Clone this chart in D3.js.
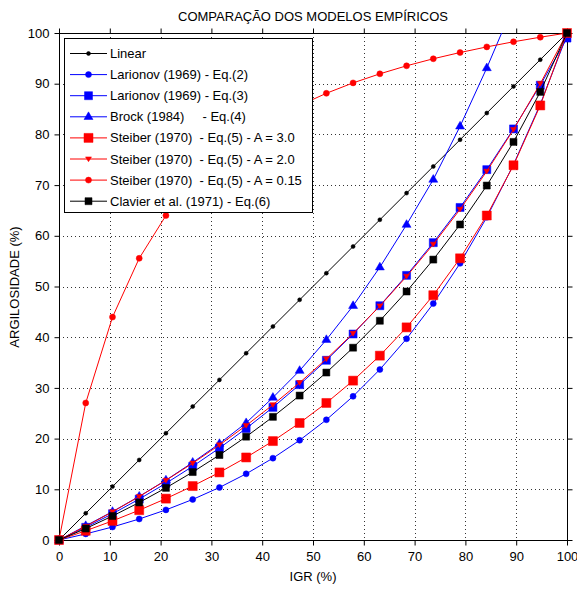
<!DOCTYPE html>
<html><head><meta charset="utf-8">
<script src="https://cdn.jsdelivr.net/npm/d3@7"></script>
<style>
body{margin:0;background:#fff}
text{font-family:"Liberation Sans",Arial,Helvetica,sans-serif;font-size:13px;fill:#000}
</style>
</head><body>
<svg id="c" width="577" height="589"></svg>
<script>
// ---- data ----
const igr = [0, 5.26, 10.53, 15.79, 21.05, 26.32, 31.58, 36.84, 42.11, 47.37, 52.63, 57.89, 63.16, 68.42, 73.68, 78.95, 84.21, 89.47, 94.74, 100];
const linear      = [0, 5.26, 10.53, 15.79, 21.05, 26.32, 31.58, 36.84, 42.11, 47.37, 52.63, 57.89, 63.16, 68.42, 73.68, 78.95, 84.21, 89.47, 94.74, 100];
const larionov2   = [0, 1.20, 2.57, 4.14, 5.94, 8.00, 10.36, 13.05, 16.14, 19.67, 23.71, 28.34, 33.63, 39.69, 46.63, 54.57, 63.65, 74.05, 85.95, 99.57];
const larionov3   = [0, 2.50, 5.18, 8.07, 11.18, 14.53, 18.13, 22.00, 26.16, 30.64, 35.45, 40.63, 46.21, 52.20, 58.65, 65.59, 73.05, 81.08, 89.71, 99.0];
const brock       = [0, 2.8, 5.6, 8.6, 11.8, 15.3, 19.0, 23.1, 28.1, 33.4, 39.5, 46.2, 53.8, 62.2, 71.1, 81.6, 93.1, 105.5];
const steiber30   = [0, 1.82, 3.77, 5.88, 8.16, 10.64, 13.33, 16.28, 19.51, 23.08, 27.03, 31.43, 36.36, 41.94, 48.28, 55.56, 64.00, 73.91, 85.71, 100];
const steiber20   = [0, 2.70, 5.56, 8.57, 11.76, 15.15, 18.75, 22.58, 26.67, 31.03, 35.71, 40.74, 46.15, 52.00, 58.33, 65.22, 72.73, 80.95, 90.00, 100];
const steiber015  = [0, 27.03, 43.96, 55.56, 64.00, 70.42, 75.47, 79.55, 82.90, 85.71, 88.11, 90.16, 91.95, 93.53, 94.92, 96.15, 97.26, 98.27, 99.17, 100];
const clavier     = [0, 2.26, 4.73, 7.40, 10.28, 13.40, 16.76, 20.38, 24.29, 28.49, 33.03, 37.93, 43.24, 49.01, 55.31, 62.23, 69.91, 78.52, 88.38, 100];
const xTicks = [0, 10, 20, 30, 40, 50, 60, 70, 80, 90, 100];
const yTicks = [0, 10, 20, 30, 40, 50, 60, 70, 80, 90, 100];
const seriesNames = [
  "Linear",
  "Larionov (1969) - Eq.(2)",
  "Larionov (1969) - Eq.(3)",
  "Brock (1984)     - Eq.(4)",
  "Steiber (1970)  - Eq.(5) - A = 3.0",
  "Steiber (1970)  - Eq.(5) - A = 2.0",
  "Steiber (1970)  - Eq.(5) - A = 0.15",
  "Clavier et al. (1971) - Eq.(6)"
];
const titleText = "COMPARAÇÃO DOS MODELOS EMPÍRICOS";
const xLabel = "IGR (%)";
const yLabel = "ARGILOSIDADE (%)";

// ---- styles ----
const styles = [
  {vals: linear,     line: "#000", color: "#000", shape: "circle", size: 2},
  {vals: larionov2,  line: "#0000ff", color: "#0000ff", shape: "circle", size: 3},
  {vals: larionov3,  line: "#0000ff", color: "#0000ff", shape: "square", size: 8},
  {vals: brock,      line: "#0000ff", color: "#0000ff", shape: "triUp", size: 9},
  {vals: steiber30,  line: "#ff0000", color: "#ff0000", shape: "square", size: 9},
  {vals: steiber20,  line: "#ff0000", color: "#ff0000", shape: "triDown", size: 6},
  {vals: steiber015, line: "#ff0000", color: "#ff0000", shape: "circle", size: 3},
  {vals: clavier,    line: "#000", color: "#000", shape: "square", size: 7}
];

const svg = d3.select("#c");
const L = 59, R = 567, T = 33, B = 540;
const x = d3.scaleLinear().domain([0, 100]).range([L, R]);
const y = d3.scaleLinear().domain([0, 100]).range([B, T]);

function shapePath(shape, s) {
  if (shape === "circle") return `M${-s},0A${s},${s} 0 1,0 ${s},0A${s},${s} 0 1,0 ${-s},0Z`;
  const h = s / 2;
  if (shape === "square") return `M${-h},${-h}H${h}V${h}H${-h}Z`;
  if (shape === "triUp") return `M0,${-s*0.55}L${h},${s*0.3}L${-h},${s*0.3}Z`;
  if (shape === "triDown") return `M0,${s*0.45}L${h},${-s*0.35}L${-h},${-s*0.35}Z`;
}

// title
svg.append("text").attr("x", 313).attr("y", 21).attr("text-anchor", "middle").text(titleText);

// grid
const grid = svg.append("g").attr("stroke", "#333").attr("stroke-width", 1).attr("stroke-dasharray", "1,3");
grid.selectAll("line.gx").data(xTicks.filter(d => d > 0 && d < 100)).join("line")
  .attr("x1", d => Math.round(x(d)) + 0.5).attr("x2", d => Math.round(x(d)) + 0.5)
  .attr("y1", T).attr("y2", B);
grid.selectAll("line.gy").data(yTicks.filter(d => d > 0 && d < 100)).join("line")
  .attr("class", "gy")
  .attr("y1", d => Math.round(y(d)) + 0.5).attr("y2", d => Math.round(y(d)) + 0.5)
  .attr("x1", L).attr("x2", R);

// axes
function styleAxis(g) {
  g.select(".domain").remove();
  g.selectAll(".tick line").attr("stroke", "#000");
  g.selectAll(".tick text").style("font-size", "13px").attr("fill", "#000");
}
svg.append("g").attr("transform", `translate(0,${B + 0.5})`)
  .call(d3.axisBottom(x).tickValues(xTicks).tickSize(5).tickPadding(6).tickFormat(d3.format("d")))
  .call(styleAxis);
svg.append("g").attr("transform", `translate(${L + 0.5},0)`)
  .call(d3.axisLeft(y).tickValues(yTicks).tickSize(5).tickPadding(5).tickFormat(d3.format("d")))
  .call(styleAxis);
svg.append("g").attr("transform", `translate(0,${T + 0.5})`)
  .call(d3.axisTop(x).tickValues(xTicks).tickSize(5).tickFormat(""))
  .call(styleAxis);
svg.append("g").attr("transform", `translate(${R + 0.5},0)`)
  .call(d3.axisRight(y).tickValues(yTicks).tickSize(5).tickFormat(""))
  .call(styleAxis);

// clip
svg.append("clipPath").attr("id", "clip").append("rect")
  .attr("x", L).attr("y", T).attr("width", R - L).attr("height", B - T);

// frame
svg.append("rect").attr("x", L + 0.5).attr("y", T + 0.5).attr("width", R - L).attr("height", B - T)
  .attr("fill", "none").attr("stroke", "#000").attr("stroke-width", 1);

// series
const lineGen = d3.line().x(d => x(d[0])).y(d => y(d[1]));
styles.forEach(st => {
  const pts = st.vals.map((v, i) => [igr[i], v]);
  const g = svg.append("g");
  g.append("path").attr("d", lineGen(pts)).attr("fill", "none")
    .attr("stroke", st.line).attr("stroke-width", 1).attr("clip-path", "url(#clip)");
  g.selectAll("path.m").data(pts.filter(p => p[1] <= 100)).join("path")
    .attr("class", "m")
    .attr("transform", p => `translate(${x(p[0])},${y(p[1])})`)
    .attr("d", shapePath(st.shape, st.size))
    .attr("fill", st.color).attr("stroke", st.color).attr("stroke-width", 0.5);
});

// legend
const lg = svg.append("g");
lg.append("rect").attr("x", 64.5).attr("y", 38.5).attr("width", 248).attr("height", 174)
  .attr("fill", "#fff").attr("stroke", "#000").attr("stroke-width", 1);
seriesNames.forEach((name, i) => {
  const st = styles[i];
  const cy = 53.5 + i * 21.1;
  lg.append("line").attr("x1", 70).attr("x2", 107).attr("y1", cy).attr("y2", cy)
    .attr("stroke", st.line).attr("stroke-width", 1);
  lg.append("path").attr("transform", `translate(88.5,${cy})`).attr("d", shapePath(st.shape, st.size))
    .attr("fill", st.color).attr("stroke", st.color).attr("stroke-width", 0.5);
  lg.append("text").attr("x", 110).attr("y", cy + 4.5).attr("xml:space", "preserve")
    .style("white-space", "pre").text(name);
});

// axis labels
svg.append("text").attr("x", 313).attr("y", 581).attr("text-anchor", "middle").text(xLabel);
svg.append("text").attr("transform", "translate(19,287) rotate(-90)").attr("text-anchor", "middle").text(yLabel);
</script>
</body></html>
